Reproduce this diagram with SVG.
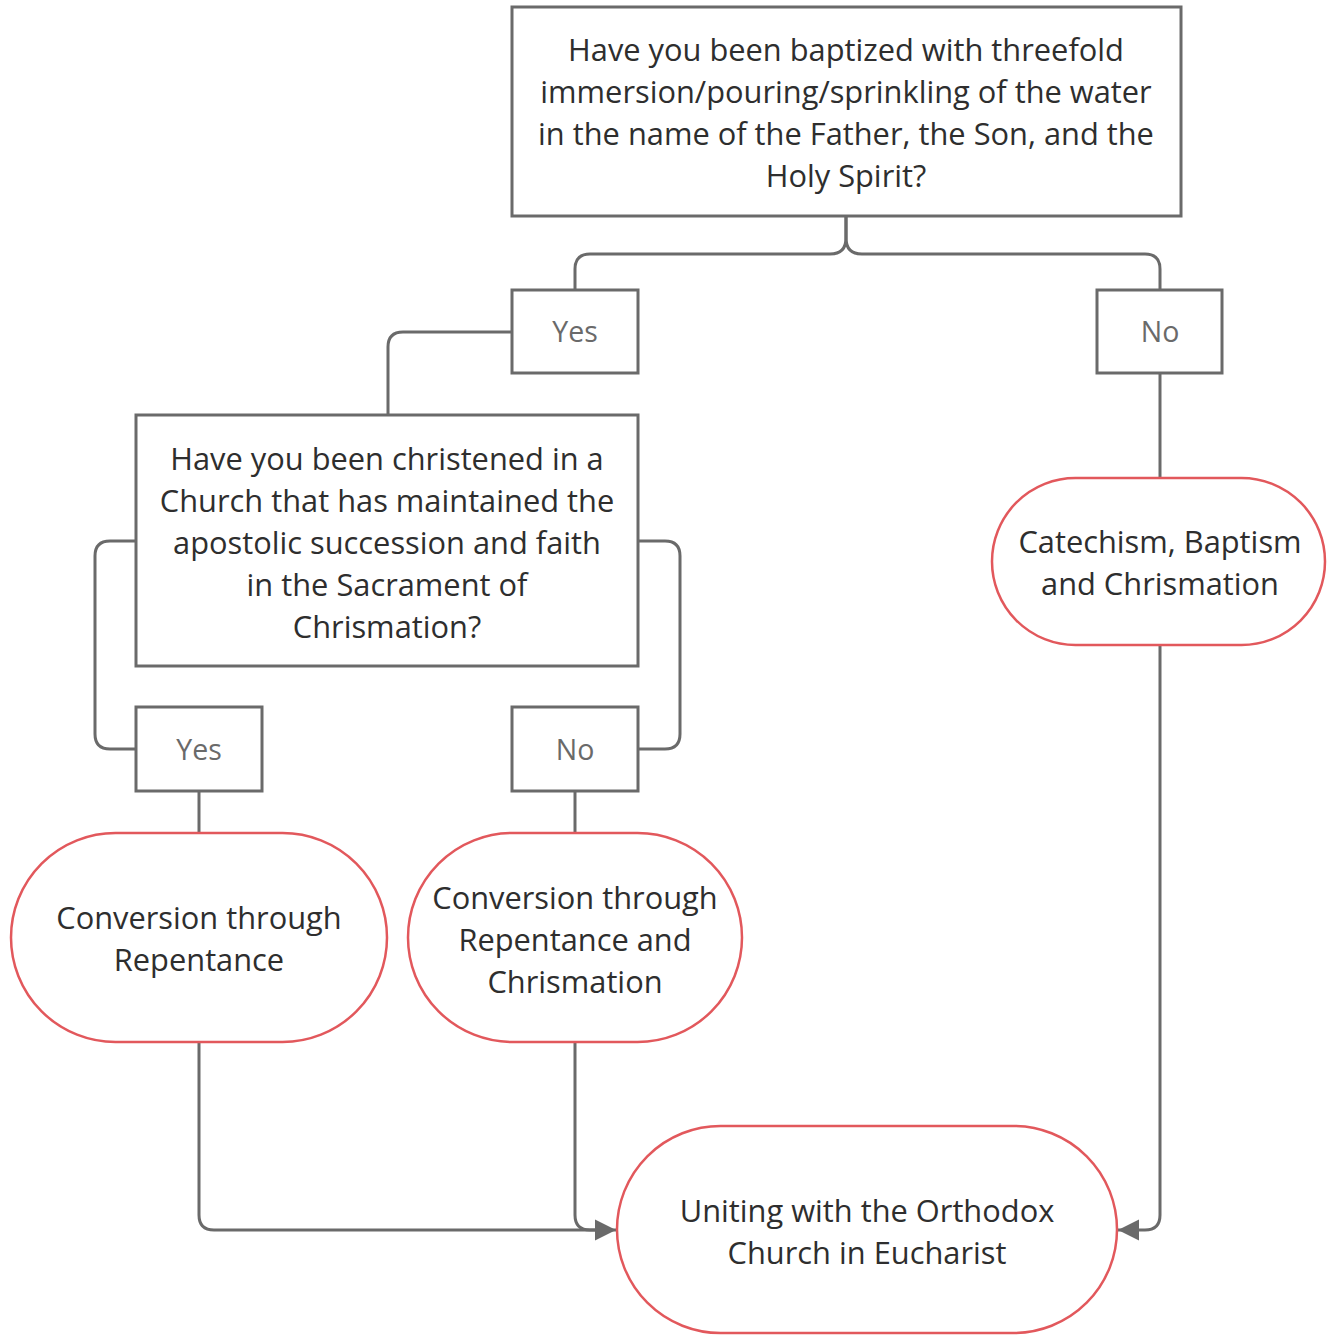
<svg xmlns="http://www.w3.org/2000/svg" width="1327" height="1335" viewBox="0 0 1327 1335">
<defs>
<style>
.box{fill:#fff;stroke:#6a6a6a;stroke-width:3}
.term{fill:#fff;stroke:#e2585c;stroke-width:2.5}
.t{font-family:"Open Sans","Noto Sans","Liberation Sans",sans-serif;font-size:30.8px;fill:#2e2e2e;text-anchor:middle}
.yn{font-family:"Open Sans","Noto Sans","Liberation Sans",sans-serif;font-size:28.5px;fill:#6a6a6a;text-anchor:middle}
.c{fill:none;stroke:#6a6a6a;stroke-width:3;stroke-linejoin:round}
</style>
<marker id="ah" viewBox="0 0 10 10" refX="10" refY="5" markerWidth="7" markerHeight="8" markerUnits="strokeWidth" orient="auto">
<path d="M0,0 L10,5 L0,10 z" fill="#6a6a6a"/>
</marker>
</defs>
<g id="connectors">
<path class="c" d="M846,216 V238 Q846,254 830,254 H590 Q575,254 575,269 V290"/>
<path class="c" d="M846,216 V238 Q846,254 862,254 H1145 Q1160,254 1160,269 V290"/>
<path class="c" d="M512,332 H403 Q388,332 388,347 V415"/>
<path class="c" d="M136,541 H110 Q95,541 95,556 V734 Q95,749 110,749 H136"/>
<path class="c" d="M638,541 H665 Q680,541 680,556 V734 Q680,749 665,749 H638"/>
<path class="c" d="M199,791 V833"/>
<path class="c" d="M575,791 V833"/>
<path class="c" d="M1160,373 V478"/>
<path class="c" d="M199,1042 V1215 Q199,1230 214,1230 H616" marker-end="url(#ah)"/>
<path class="c" d="M575,1042 V1215 Q575,1230 590,1230 H600"/>
<path class="c" d="M1160,645 V1215 Q1160,1230 1145,1230 H1118" marker-end="url(#ah)"/>
</g>
<g id="q1">
<rect class="box" x="512" y="7" width="669" height="209"/>
<text class="t" x="846" y="61">Have you been baptized with threefold</text>
<text class="t" x="846" y="103">immersion/pouring/sprinkling of the water</text>
<text class="t" x="846" y="145">in the name of the Father, the Son, and the</text>
<text class="t" x="846" y="187">Holy Spirit?</text>
</g>
<g id="yes1">
<rect class="box" x="512" y="290" width="126" height="83"/>
<text class="yn" x="575" y="342">Yes</text>
</g>
<g id="no1">
<rect class="box" x="1097" y="290" width="125" height="83"/>
<text class="yn" x="1160" y="342">No</text>
</g>
<g id="q2">
<rect class="box" x="136" y="415" width="502" height="251"/>
<text class="t" x="387" y="470">Have you been christened in a</text>
<text class="t" x="387" y="512">Church that has maintained the</text>
<text class="t" x="387" y="554">apostolic succession and faith</text>
<text class="t" x="387" y="596">in the Sacrament of</text>
<text class="t" x="387" y="638">Chrismation?</text>
</g>
<g id="yes2">
<rect class="box" x="136" y="707" width="126" height="84"/>
<text class="yn" x="199" y="760">Yes</text>
</g>
<g id="no2">
<rect class="box" x="512" y="707" width="126" height="84"/>
<text class="yn" x="575" y="760">No</text>
</g>
<g id="t1">
<rect class="term" x="11" y="833" width="376" height="209" rx="104.5" ry="104.5"/>
<text class="t" x="199" y="929">Conversion through</text>
<text class="t" x="199" y="971">Repentance</text>
</g>
<g id="t2">
<rect class="term" x="408" y="833" width="334" height="209" rx="104.5" ry="104.5"/>
<text class="t" x="575" y="909">Conversion through</text>
<text class="t" x="575" y="951">Repentance and</text>
<text class="t" x="575" y="993">Chrismation</text>
</g>
<g id="t3">
<rect class="term" x="992" y="478" width="333" height="167" rx="83.5" ry="83.5"/>
<text class="t" x="1160" y="553">Catechism, Baptism</text>
<text class="t" x="1160" y="595">and Chrismation</text>
</g>
<g id="t4">
<rect class="term" x="617" y="1126" width="500" height="207" rx="103.5" ry="103.5"/>
<text class="t" x="867" y="1222">Uniting with the Orthodox</text>
<text class="t" x="867" y="1264">Church in Eucharist</text>
</g>
</svg>
